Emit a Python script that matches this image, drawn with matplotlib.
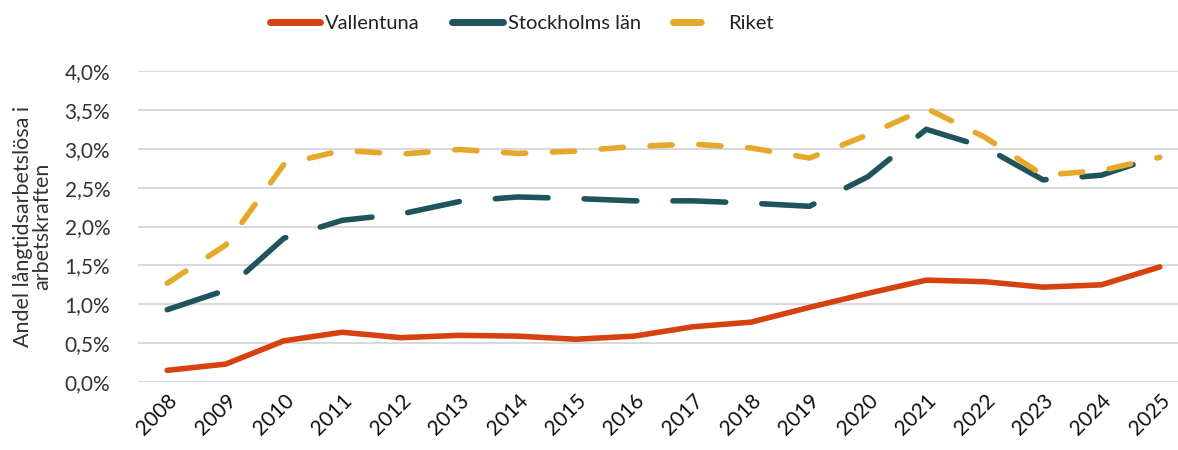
import matplotlib
matplotlib.use("Agg")
import matplotlib.pyplot as plt
from matplotlib.ticker import FuncFormatter, MultipleLocator
from matplotlib import font_manager

years = [str(y) for y in range(2008, 2026)]
vallentuna = [0.15, 0.23, 0.53, 0.64, 0.57, 0.60, 0.59, 0.55, 0.59, 0.71, 0.77, 0.96, 1.14, 1.31, 1.29, 1.22, 1.25, 1.48]
stockholm = [0.93, 1.18, 1.85, 2.08, 2.16, 2.32, 2.38, 2.36, 2.33, 2.33, 2.30, 2.26, 2.64, 3.25, 3.02, 2.60, 2.66, 2.91]
riket = [1.27, 1.76, 2.80, 2.98, 2.93, 2.99, 2.94, 2.97, 3.03, 3.06, 3.01, 2.88, 3.18, 3.52, 3.15, 2.66, 2.72, 2.89]

names = {f.name for f in font_manager.fontManager.ttflist}
fam = "Lato" if "Lato" in names else "DejaVu Sans"
plt.rcParams['font.family'] = [fam, 'DejaVu Sans']
plt.rcParams['font.weight'] = 'normal'

W, H = 1178, 450
fig = plt.figure(figsize=(W / 100, H / 100), dpi=100)
left_px, right_px = 138, 1189
top_px, bot_px = 71, 382
ax = fig.add_axes([left_px / W, (H - bot_px) / H, (right_px - left_px) / W, (bot_px - top_px) / H])

x = list(range(len(years)))
lw = 4.0
red = "#D6410F"
teal = "#1F545B"
yellow = "#E6A82B"
txt = "#333333"

ax.plot(x, vallentuna, color=red, lw=lw, solid_capstyle='round', solid_joinstyle='round', label="Vallentuna", zorder=3)
l2, = ax.plot(x, stockholm, color=teal, lw=lw, dash_capstyle='round', dash_joinstyle='round', label="Stockholms län", zorder=3)
l2.set_dashes([9.5, 6.5])
l3, = ax.plot(x, riket, color=yellow, lw=lw, dash_capstyle='round', dash_joinstyle='round', label="Riket", zorder=4)
l3.set_dashes([4.0, 4.8])

ax.set_xlim(-0.5, len(years) - 0.5)
ax.set_ylim(0, 4.0)
ax.yaxis.set_major_locator(MultipleLocator(0.5))
ax.yaxis.set_major_formatter(FuncFormatter(lambda v, p: (f"{v:.1f}" + "%").replace(".", ",")))
ax.set_xticks(x)
ax.set_xticklabels(years, rotation=45, ha='right', rotation_mode='anchor', fontsize=15, color="#111111")
ax.tick_params(axis='y', labelsize=15, labelcolor=txt, length=0, pad=20)
ax.tick_params(axis='x', length=0, pad=6)
ax.grid(axis='y', color="#d9d9d9", lw=1.5, zorder=0)
ax.set_axisbelow(True)
for s in ax.spines.values():
    s.set_visible(False)

ax.set_ylabel("Andel långtidsarbetslösa i\narbetskraften", fontsize=15.5, color=txt, linespacing=0.95, labelpad=9)

leg = fig.legend(handles=[ax.lines[0], l2, l3], loc='upper center', bbox_to_anchor=(0.443, 1.007), ncol=3,
                 frameon=False, fontsize=14.5, handlelength=2.5, columnspacing=1.6, handletextpad=0.25)
for t in leg.get_texts():
    t.set_color("#222222")
for h in leg.legend_handles:
    h.set_linewidth(5)

fig.savefig("out.png", dpi=100)
